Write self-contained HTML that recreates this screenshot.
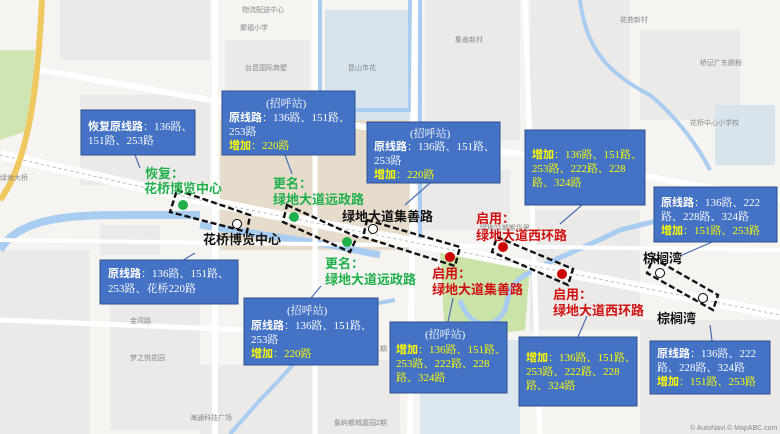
<!DOCTYPE html>
<html><head><meta charset="utf-8"><style>
html,body{margin:0;padding:0;width:780px;height:434px;overflow:hidden;background:#f4f2ee}
svg{display:block}
.b{fill:#4472c4;stroke:#2f528f;stroke-width:1}
.t{font-family:"Liberation Serif","Noto Serif CJK SC","Noto Sans CJK SC",serif;font-size:11px;fill:#fff}
.k{font-family:"Liberation Sans","Noto Sans CJK SC",sans-serif;font-weight:bold}
.y{fill:#ffff00}
.g{font-family:"Liberation Sans","Noto Sans CJK SC",sans-serif;font-weight:bold;font-size:13px;fill:#1fb04c}
.r{font-family:"Liberation Sans","Noto Sans CJK SC",sans-serif;font-weight:bold;font-size:13px;fill:#d01010}
.n{font-family:"Liberation Sans","Noto Sans CJK SC",sans-serif;font-weight:bold;font-size:13px;fill:#111}
.m{font-family:"Liberation Sans","Noto Sans CJK SC",sans-serif;font-size:7px;fill:#888}
.d{fill:none;stroke:#111;stroke-width:2.4;stroke-dasharray:6 3}
.l{stroke:#4a6fb5;stroke-width:1.2}
</style></head><body>
<svg width="780" height="434" viewBox="0 0 780 434">
<rect width="780" height="434" fill="#f6f4f0"/>
<g fill="#ebeae8">
<rect x="60" y="0" width="150" height="60"/><rect x="225" y="40" width="85" height="60"/>
<rect x="425" y="0" width="95" height="140"/><rect x="530" y="0" width="100" height="130"/>
<rect x="640" y="30" width="100" height="90"/><rect x="80" y="95" width="130" height="90"/>
<rect x="0" y="250" width="90" height="184"/><rect x="110" y="300" width="90" height="130"/>
<rect x="250" y="360" width="150" height="74"/><rect x="530" y="210" width="110" height="120"/>
<rect x="640" y="320" width="140" height="114"/><rect x="420" y="170" width="90" height="60"/>
<rect x="100" y="225" width="60" height="30"/><rect x="200" y="365" width="50" height="69"/>
</g>
<rect x="325" y="10" width="85" height="110" fill="#d7e4ee"/>
<rect x="715" y="105" width="60" height="60" fill="#d7e4ee"/>
<rect x="220" y="120" width="190" height="130" fill="#e7dccb"/>
<polygon points="0,50 35,50 30,130 0,140" fill="#cfe6b2"/>
<polygon points="440,250 530,265 525,330 445,340" fill="#c9e3a8"/>
<rect x="420" y="340" width="100" height="94" fill="#dbe8f0"/>
<path d="M0,250 C20,215 80,215 130,215 L200,215" stroke="#a9cdf0" stroke-width="8" fill="none"/>
<path d="M200,225 L330,245 L380,255" stroke="#a9cdf0" stroke-width="7" fill="none"/>
<path d="M320,0 L320,110 L410,110 L410,0" stroke="#a9cdf0" stroke-width="4" fill="none"/>
<path d="M420,0 L420,240" stroke="#a9cdf0" stroke-width="4" fill="none"/>
<path d="M395,300 L340,310 C320,330 300,360 260,400 L230,434" stroke="#a9cdf0" stroke-width="4" fill="none"/>
<path d="M580,0 C585,40 600,70 650,95 C680,120 700,150 710,170" stroke="#a9cdf0" stroke-width="4" fill="none"/>
<path d="M460,300 C470,330 495,330 505,310 L510,290 C520,270 560,260 620,230 L660,220" stroke="#a9cdf0" stroke-width="5" fill="none"/>
<g stroke="#fff" fill="none">
<path d="M0,155 L200,200 L780,315" stroke-width="10"/>
<path d="M40,70 L780,200" stroke-width="6"/>
<path d="M215,0 L215,434" stroke-width="6"/>
<path d="M315,0 L315,434" stroke-width="5"/>
<path d="M415,0 L410,434" stroke-width="6"/>
<path d="M525,0 L540,434" stroke-width="5"/>
<path d="M0,240 L780,250" stroke-width="4"/>
<path d="M0,320 L250,330" stroke-width="5"/>
</g>
<path d="M0,155 L200,200 L780,315" stroke="#bbb" stroke-width="1" stroke-dasharray="3 3" fill="none"/>
<path d="M42,0 C38,80 30,160 0,200" stroke="#f0c860" stroke-width="6" fill="none"/>
<text class="m" x="242" y="12">物流配送中心</text><text class="m" x="240" y="30">聚福小学</text>
<text class="m" x="245" y="70">台昆国际商墅</text><text class="m" x="348" y="70">昆山市花</text>
<text class="m" x="455" y="42">集善新村</text><text class="m" x="620" y="22">花苑新村</text>
<text class="m" x="700" y="65">桥记广东肠粉</text><text class="m" x="690" y="125">花桥中心小学校</text>
<text class="m" x="0" y="180">绿地大桥</text><text class="m" x="550" y="158">花家浜新村</text>
<text class="m" x="480" y="230">绿地21城紫华里</text><text class="m" x="130" y="323">金湾路</text>
<text class="m" x="130" y="360">梦之悦花园</text><text class="m" x="190" y="420">海通科技广场</text>
<text class="m" x="334" y="351">象屿都城嘉园1期</text><text class="m" x="334" y="425">象屿都城嘉园2期</text>
<text class="m" x="690" y="430">© AutoNavi © MapABC.com</text>
<g class="l">
<line x1="135" y1="155" x2="140" y2="168"/><line x1="285" y1="155" x2="292" y2="174"/>
<line x1="430" y1="183" x2="405" y2="205"/><line x1="582" y1="205" x2="560" y2="224"/>
<line x1="712" y1="242" x2="680" y2="256"/><line x1="180" y1="262" x2="195" y2="253"/>
<line x1="311" y1="298" x2="321" y2="286"/><line x1="448" y1="322" x2="453" y2="298"/>
<line x1="578" y1="337" x2="587" y2="316"/><line x1="712" y1="341" x2="710" y2="325"/>
</g>
<polygon class="d" points="177,190 250,215 247,232 170,212"/>
<polygon class="d" points="287,205 357,237 350,252 283,222"/>
<polygon class="d" points="367,220 460,247 455,266 363,237"/>
<polygon class="d" points="497,237 573,269 568,285 492,252"/>
<polygon class="d" points="653,258 718,295 713,310 647,273"/>
<g fill="#1fb04c"><circle cx="183" cy="205" r="5"/><circle cx="294" cy="217" r="5"/><circle cx="347" cy="242" r="5"/></g>
<g fill="#cc0000"><circle cx="450" cy="257" r="5"/><circle cx="503" cy="247" r="5"/><circle cx="562" cy="274" r="5"/></g>
<g fill="#fff" stroke="#000"><circle cx="237" cy="224" r="4.5"/><circle cx="373" cy="229" r="4.5"/><circle cx="660" cy="273" r="4.5"/><circle cx="703" cy="298" r="4.5"/></g>
<text class="g" x="145" y="178">恢复：</text><text class="g" x="144" y="193">花桥博览中心</text>
<text class="n" x="203" y="244">花桥博览中心</text>
<text class="g" x="273" y="188">更名：</text><text class="g" x="273" y="204">绿地大道远政路</text>
<text class="n" x="342" y="221">绿地大道集善路</text>
<text class="g" x="325" y="268">更名：</text><text class="g" x="325" y="284">绿地大道远政路</text>
<text class="r" x="432" y="278">启用：</text><text class="r" x="432" y="294">绿地大道集善路</text>
<text class="r" x="476" y="223">启用：</text><text class="r" x="476" y="240">绿地大道西环路</text>
<text class="r" x="553" y="299">启用：</text><text class="r" x="553" y="315">绿地大道西环路</text>
<text class="n" x="643" y="263">棕榈湾</text><text class="n" x="657" y="323">棕榈湾</text>
<rect class="b" x="81" y="110" width="114" height="45"/>
<text class="t" x="88" y="130"><tspan class="k">恢复原线路</tspan>：136路、</text>
<text class="t" x="88" y="144">151路、253路</text>
<rect class="b" x="222" y="91" width="133" height="64"/>
<text class="t" x="266" y="107">(招呼站)</text>
<text class="t" x="229" y="121"><tspan class="k">原线路</tspan>：136路、151路、</text>
<text class="t" x="229" y="135">253路</text>
<text class="t y" x="229" y="149"><tspan class="k">增加</tspan>：220路</text>
<rect class="b" x="367" y="122" width="133" height="61"/>
<text class="t" x="410" y="137">(招呼站)</text>
<text class="t" x="374" y="150"><tspan class="k">原线路</tspan>：136路、151路、</text>
<text class="t" x="374" y="164">253路</text>
<text class="t y" x="374" y="178"><tspan class="k">增加</tspan>：220路</text>
<rect class="b" x="525" y="130" width="120" height="75"/>
<text class="t y" x="532" y="158"><tspan class="k">增加</tspan>：136路、151路、</text>
<text class="t y" x="532" y="172">253路、222路、228</text>
<text class="t y" x="532" y="186">路、324路</text>
<rect class="b" x="654" y="187" width="123" height="55"/>
<text class="t" x="661" y="206"><tspan class="k">原线路</tspan>：136路、222</text>
<text class="t" x="661" y="220">路、228路、324路</text>
<text class="t y" x="661" y="234"><tspan class="k">增加</tspan>：151路、253路</text>
<rect class="b" x="100" y="260" width="138" height="44"/>
<text class="t" x="108" y="277"><tspan class="k">原线路</tspan>：136路、151路、</text>
<text class="t" x="108" y="292">253路、花桥220路</text>
<rect class="b" x="244" y="298" width="134" height="67"/>
<text class="t" x="287" y="314">(招呼站)</text>
<text class="t" x="251" y="329"><tspan class="k">原线路</tspan>：136路、151路、</text>
<text class="t" x="251" y="343">253路</text>
<text class="t y" x="251" y="357"><tspan class="k">增加</tspan>：220路</text>
<rect class="b" x="390" y="322" width="117" height="71"/>
<text class="t" x="425" y="338">(招呼站)</text>
<text class="t y" x="396" y="353"><tspan class="k">增加</tspan>：136路、151路、</text>
<text class="t y" x="396" y="367">253路、222路、228</text>
<text class="t y" x="396" y="381">路、324路</text>
<rect class="b" x="519" y="337" width="118" height="69"/>
<text class="t y" x="526" y="361"><tspan class="k">增加</tspan>：136路、151路、</text>
<text class="t y" x="526" y="375">253路、222路、228</text>
<text class="t y" x="526" y="389">路、324路</text>
<rect class="b" x="650" y="341" width="120" height="53"/>
<text class="t" x="657" y="357"><tspan class="k">原线路</tspan>：136路、222</text>
<text class="t" x="657" y="371">路、228路、324路</text>
<text class="t y" x="657" y="385"><tspan class="k">增加</tspan>：151路、253路</text>
</svg>
</body></html>
